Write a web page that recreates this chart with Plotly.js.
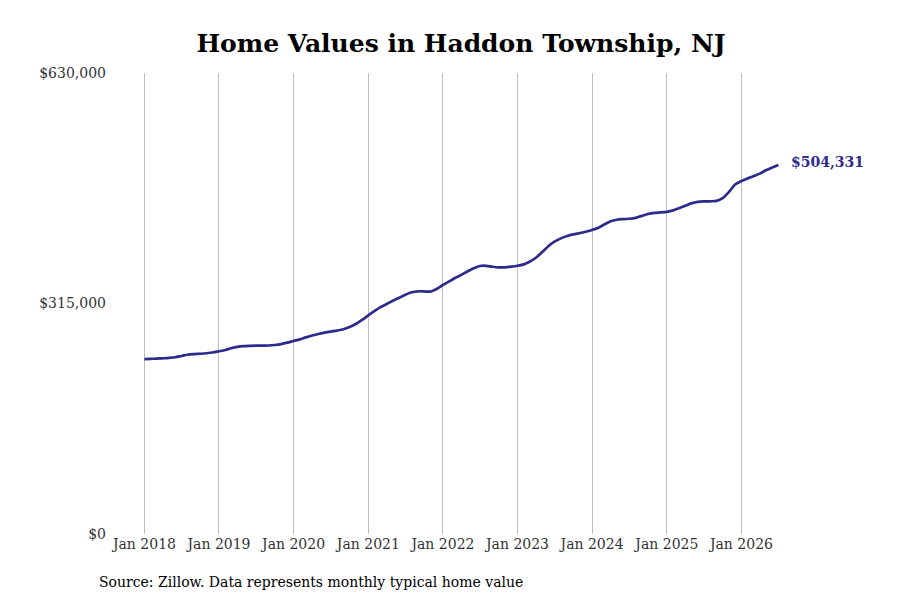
<!DOCTYPE html>
<html>
<head>
<meta charset="utf-8">
<script src="https://cdn.plot.ly/plotly-3.0.1.min.js"></script>
<style>
  html, body { margin: 0; padding: 0; background: #fff; }
  #chart { width: 900px; height: 600px; }
</style>
</head>
<body>
<div id="chart"></div>
<script>
// ---- Data: monthly typical home value, Jan 2018 - Jul 2026 ----
const startYear = 2018;
const values2018 = [239000, 239300, 239700, 240100, 240600, 241500, 243300, 245000, 245800, 246300, 247000, 248000];
const values2019 = [249700, 251500, 253800, 255700, 256700, 257100, 257300, 257400, 257600, 258300, 259500, 261500];
const values2020 = [263800, 266000, 268700, 271200, 273300, 275100, 276600, 278000, 279800, 282800, 287000, 292500];
const values2021 = [298800, 304800, 310000, 314300, 318800, 322800, 327000, 330300, 331700, 331500, 331300, 334800];
const values2022 = [340300, 345200, 349800, 354200, 358800, 363200, 366300, 366500, 365200, 364300, 364400, 365300];
const values2023 = [366600, 368500, 372000, 377500, 385000, 393300, 399500, 404000, 407300, 409500, 411200, 413000];
const values2024 = [415500, 418500, 423000, 427300, 429500, 430300, 430800, 432000, 434800, 437300, 438800, 439400];
const values2025 = [440300, 442300, 445200, 448500, 451800, 453800, 454500, 454700, 455300, 459000, 467500, 477500];
const values2026 = [482500, 486000, 489000, 492500, 497000, 501000, 504331];

const tickDates = ['2018-01-01', '2019-01-01', '2020-01-01', '2021-01-01', '2022-01-01',
                   '2023-01-01', '2024-01-01', '2025-01-01', '2026-01-01'];
const tickLabels = ['Jan 2018', 'Jan 2019', 'Jan 2020', 'Jan 2021', 'Jan 2022',
                    'Jan 2023', 'Jan 2024', 'Jan 2025', 'Jan 2026'];
const yTicks = [0, 315000, 630000];
const yTickLabels = ['$0', '$315,000', '$630,000'];

const lineColor = '#2e2a8c';
const serif = 'DejaVu Serif, serif';

const values = [].concat(values2018, values2019, values2020, values2021, values2022,
                         values2023, values2024, values2025, values2026);
const dates = values.map((v, i) => {
  const y = startYear + Math.floor(i / 12);
  const m = (i % 12) + 1;
  return `${y}-${String(m).padStart(2, '0')}-01`;
});
const lastIdx = values.length - 1;

Plotly.newPlot('chart', [{
  type: 'scatter',
  mode: 'lines',
  x: dates,
  y: values,
  line: { color: lineColor, width: 2.7, shape: 'spline', smoothing: 0.8 },
  hoverinfo: 'x+y',
}], {
  width: 900,
  height: 600,
  paper_bgcolor: '#fff',
  plot_bgcolor: '#fff',
  showlegend: false,
  margin: { l: 115, r: 93, t: 73, b: 66 },
  title: {
    text: '<b>Home Values in Haddon Township, NJ</b>',
    font: { family: serif, size: 25, color: '#000' },
    x: 0.5, xref: 'paper', xanchor: 'center',
    y: 1 - 43 / 600, yref: 'container', yanchor: 'middle',
  },
  xaxis: {
    type: 'date',
    range: ['2017-08-10', '2026-11-18'],
    tickvals: tickDates,
    ticktext: tickLabels,
    showgrid: true,
    gridcolor: '#bdbdbd',
    gridwidth: 1,
    zeroline: false,
    showline: false,
    ticks: '',
    tickfont: { family: serif, size: 14, color: '#333' },
  },
  yaxis: {
    range: [0, 630000],
    tickvals: yTicks,
    ticktext: yTickLabels,
    showgrid: false,
    zeroline: false,
    showline: false,
    ticks: '',
    ticklabelstandoff: 8,
    tickfont: { family: serif, size: 14, color: '#333' },
  },
  annotations: [
    {
      x: dates[lastIdx], y: values[lastIdx], xref: 'x', yref: 'y',
      text: '<b>$' + values[lastIdx].toLocaleString('en-US') + '</b>',
      showarrow: false, xanchor: 'left', yanchor: 'middle',
      xshift: 11, yshift: 3,
      font: { family: serif, size: 14, color: lineColor },
    },
    {
      x: 0, y: 0, xref: 'paper', yref: 'paper',
      text: 'Source: Zillow. Data represents monthly typical home value',
      showarrow: false, xanchor: 'left', yanchor: 'middle',
      font: { family: serif, size: 14, color: '#000' },
    },
  ],
}, { displayModeBar: false, staticPlot: true });

// place the source note in pixel terms relative to the page
const gd = document.getElementById('chart');
const fs = gd._fullLayout;
const srcX = (97 - fs._size.l) / fs._size.w;
const srcY = (fs.height - 582 - fs._size.b) / fs._size.h;
Plotly.relayout(gd, { 'annotations[1].x': srcX, 'annotations[1].y': srcY });
</script>
</body>
</html>
